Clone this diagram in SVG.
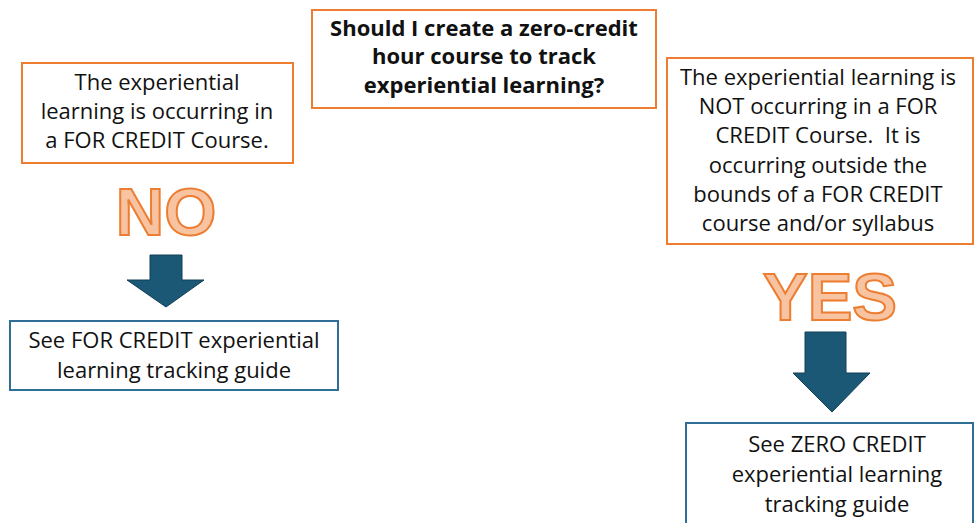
<svg xmlns="http://www.w3.org/2000/svg" width="975" height="523" viewBox="0 0 975 523">
<style>
.obox{fill:#fff;stroke:#ED7D31;stroke-width:2}
.bbox{fill:#fff;stroke:#2F6F96;stroke-width:2}
.t{font-family:"Open Sans","Liberation Sans",Arial,sans-serif;font-size:22px;fill:#111;text-anchor:middle}
.tb{font-family:"Open Sans","Liberation Sans",Arial,sans-serif;font-size:22px;font-weight:bold;fill:#111;text-anchor:middle}
.big{font-family:"Liberation Sans",Arial,sans-serif;font-size:67px;font-weight:bold;fill:#F7C3A1;stroke:#ED7D31;stroke-width:2;text-anchor:middle}
.arr{fill:#1B5876;stroke:#123F56;stroke-width:1}
</style>
<rect width="975" height="523" fill="#fff"/>
<g id="question">
<rect class="obox" x="312" y="10" width="344" height="98"/>
<text class="tb" x="484" y="36">Should I create a zero-credit</text>
<text class="tb" x="484" y="64">hour course to track</text>
<text class="tb" x="484" y="93">experiential learning?</text>
</g>
<g id="forcredit">
<rect class="obox" x="22" y="63" width="271" height="100"/>
<text class="t" x="157" y="90">The experiential</text>
<text class="t" x="157" y="119">learning is occurring in</text>
<text class="t" x="157" y="148">a FOR CREDIT Course.</text>
</g>
<g id="no">
<text class="big" x="166" y="235">NO</text>
</g>
<g id="forguide">
<rect class="bbox" x="10" y="321" width="328" height="69"/>
<text class="t" x="174" y="348">See FOR CREDIT experiential</text>
<text class="t" x="174" y="378">learning tracking guide</text>
</g>
<g id="notcredit">
<rect class="obox" x="667" y="58" width="306" height="186"/>
<text class="t" x="818" y="85">The experiential learning is</text>
<text class="t" x="818" y="114">NOT occurring in a FOR</text>
<text class="t" x="818" y="143" xml:space="preserve">CREDIT Course.  It is</text>
<text class="t" x="818" y="173">occurring outside the</text>
<text class="t" x="818" y="202">bounds of a FOR CREDIT</text>
<text class="t" x="818" y="231">course and/or syllabus</text>
</g>
<g id="yes">
<text class="big" x="830" y="320">YES</text>
</g>
<g id="zeroguide">
<rect class="bbox" x="686" y="423" width="287" height="110"/>
<text class="t" x="837" y="452">See ZERO CREDIT</text>
<text class="t" x="837" y="482">experiential learning</text>
<text class="t" x="837" y="512">tracking guide</text>
</g>
<g id="connectors">
<polygon class="arr" points="150,255 182,255 182,280 204,280 166,307 127,280 150,280"/>
<polygon class="arr" points="805,332 846,332 846,373 870,373 832,412 793,373 805,373"/>
</g>
</svg>
